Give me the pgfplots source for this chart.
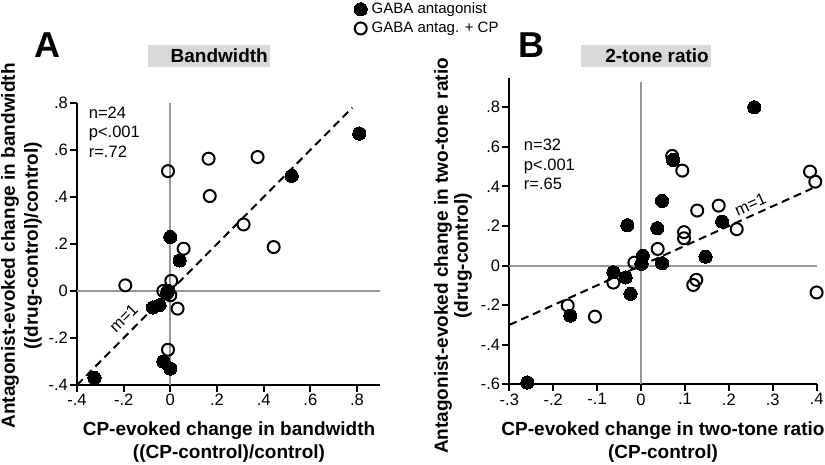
\documentclass[border=0pt]{standalone}
\usepackage{pgfplots}
\pgfplotsset{compat=1.18}
\usepackage{fontspec}
\setmainfont{Liberation Sans}
\definecolor{zgray}{RGB}{150,150,150}
\definecolor{boxgray}{RGB}{217,217,217}

\pgfplotstableread{
x y
0.81 0.67
0.52 0.49
0.00 0.23
0.04 0.13
-0.01 0.00
-0.075 -0.07
-0.046 -0.06
-0.03 -0.30
0.00 -0.33
-0.325 -0.37
}\Afilled
\pgfplotstableread{
x y
-0.01 0.51
0.164 0.563
0.169 0.404
0.374 0.57
0.314 0.283
0.443 0.187
0.057 0.18
-0.193 0.024
-0.03 0.0
0.004 0.043
0.0 -0.018
-0.014 -0.01
0.031 -0.075
-0.01 -0.25
}\Aopen
\pgfplotstableread{
x y
0.258 0.80
0.048 0.327
-0.031 0.204
0.037 0.189
0.185 0.222
-0.063 -0.034
-0.035 -0.06
-0.024 -0.143
0.004 0.05
0.001 0.009
0.048 0.012
0.147 0.045
-0.161 -0.253
-0.259 -0.591
0.073 0.534
}\Bfilled
\pgfplotstableread{
x y
0.071 0.554
0.094 0.48
0.128 0.278
0.177 0.303
0.385 0.475
0.397 0.424
0.098 0.169
0.098 0.138
0.218 0.184
0.038 0.084
-0.015 0.015
-0.063 -0.086
0.126 -0.072
0.119 -0.098
0.40 -0.136
-0.167 -0.202
-0.105 -0.258
}\Bopen

\pgfplotsset{
  myax/.style={
    scale only axis,
    axis lines*=left,
    axis line style={line width=2pt, black},
    tick align=outside,
    major tick length=7pt,
    every tick/.style={line width=2pt, black},
    tick label style={font=\fontsize{16.5}{18}\selectfont},
    xticklabel style={inner sep=2pt},
    yticklabel style={inner sep=2pt},
    clip=false,
  },
  filledpt/.style={only marks, mark=*, mark size=6.6pt, mark options={fill=black, draw=black, line width=0pt}},
  openpt/.style={only marks, mark=o, mark size=6pt, mark options={fill=white, draw=black, line width=2pt}},
  fitline/.style={black, line width=2pt, dash pattern=on 8pt off 5pt, no marks},
  zline/.style={zgray, line width=2pt, no marks},
}

\begin{document}
\begin{tikzpicture}
\path[use as bounding box] (0pt,0pt) rectangle (825pt,-465pt);

% Panel A
\begin{axis}[myax,
  at={(77pt,-385pt)}, anchor=south west,
  width=303.3pt, height=282pt,
  xmin=-0.4, xmax=0.9, ymin=-0.4, ymax=0.8,
  xtick={-0.4,-0.2,0,0.2,0.4,0.6,0.8},
  xticklabels={-.4,-.2,0,.2,.4,.6,.8},
  ytick={-0.4,-0.2,0,0.2,0.4,0.6,0.8},
  yticklabels={-.4,-.2,0,.2,.4,.6,.8},
  legend style={at={(axis description cs:0.913,1.362)}, anchor=north west,
    draw=none, fill=none, inner sep=0pt, font=\fontsize{15}{17}\selectfont,
    row sep=3pt, cells={anchor=west}},
  legend image code/.code={\path[draw=none, fill=none] (0pt,-0.1pt) rectangle (15pt,0.1pt); \draw[#1] plot coordinates {(6pt,0pt)};},
]
\addplot[zline, forget plot] coordinates {(0,-0.4) (0,0.8)};
\addplot[zline, forget plot] coordinates {(-0.4,0) (0.9,0)};
\addplot[fitline, forget plot] coordinates {(-0.4,-0.4) (0.78,0.78)};
\addplot[filledpt] table {\Afilled};
\addplot[openpt] table {\Aopen};
\legend{GABA antagonist, GABA antag. + CP}
\node[anchor=north west, inner sep=0pt, align=left, font=\fontsize{16.5}{19.5}\selectfont]
  at (axis cs:-0.35,0.785) {n=24\\p<.001\\r=.72};
\node[rotate=45, font=\fontsize{16.5}{18}\selectfont, inner sep=0pt]
  at (axis cs:-0.2,-0.115) {m=1};
\end{axis}

% Panel B
\begin{axis}[myax,
  at={(509.3pt,-384.3pt)}, anchor=south west,
  width=307.3pt, height=306.7pt,
  xmin=-0.3, xmax=0.4, ymin=-0.6, ymax=0.95,
  xtick={-0.3,-0.2,-0.1,0,0.1,0.2,0.3,0.4},
  xticklabels={-.3,-.2,-.1,0,.1,.2,.3,.4},
  ytick={-0.6,-0.4,-0.2,0,0.2,0.4,0.6,0.8},
  yticklabels={-.6,-.4,-.2,0,.2,.4,.6,.8},
]
\addplot[zline] coordinates {(0,-0.6) (0,0.93)};
\addplot[zline] coordinates {(-0.3,0) (0.4,0)};
\addplot[fitline] coordinates {(-0.3,-0.3) (0.39,0.39)};
\addplot[filledpt] table {\Bfilled};
\addplot[openpt] table {\Bopen};
\node[anchor=north west, inner sep=0pt, align=left, font=\fontsize{16.5}{19.5}\selectfont]
  at (axis cs:-0.267,0.64) {n=32\\p<.001\\r=.65};
\node[rotate=24, font=\fontsize{16.5}{18}\selectfont, inner sep=0pt]
  at (axis cs:0.249,0.31) {m=1};
\end{axis}

% Titles and panel letters
\fill[boxgray] (147.7pt,-45pt) rectangle (270pt,-66.7pt);
\node[anchor=east, inner sep=0pt, font=\bfseries\fontsize{19}{22}\selectfont] at (268pt,-56pt) {Bandwidth};
\fill[boxgray] (581pt,-45pt) rectangle (711pt,-67pt);
\node[anchor=east, inner sep=0pt, font=\bfseries\fontsize{19}{22}\selectfont] at (709pt,-56pt) {2-tone ratio};
\node[anchor=base west, inner sep=0pt, font=\bfseries\fontsize{36}{36}\selectfont] at (34pt,-58pt) {A};
\node[anchor=base west, inner sep=0pt, font=\bfseries\fontsize{36}{36}\selectfont] at (518pt,-58pt) {B};

% Axis labels
\node[align=center, font=\bfseries\fontsize{19}{22.6}\selectfont] at (229pt,-442pt)
  {CP-evoked change in bandwidth\\((CP-control)/control)};
\node[align=center, rotate=90, font=\bfseries\fontsize{19}{23}\selectfont] at (21.5pt,-246pt)
  {Antagonist-evoked change in bandwidth\\((drug-control)/control)};
\node[align=center, font=\bfseries\fontsize{19}{22.6}\selectfont] at (663pt,-442pt)
  {CP-evoked change in two-tone ratio\\(CP-control)};
\node[align=center, rotate=90, font=\bfseries\fontsize{19}{20}\selectfont] at (453pt,-256pt)
  {Antagonist-evoked change in two-tone ratio\\(drug-control)};
\end{tikzpicture}
\end{document}
